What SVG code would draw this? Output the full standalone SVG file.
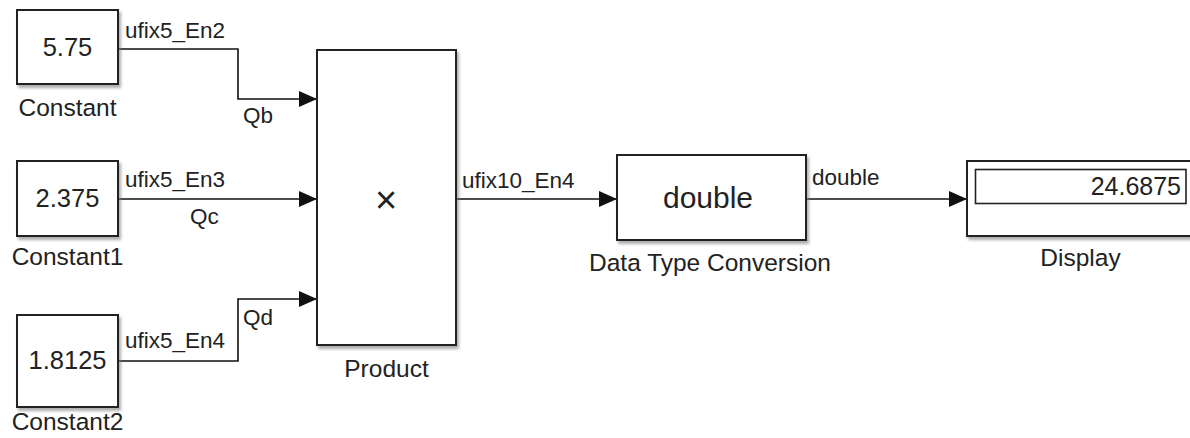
<svg xmlns="http://www.w3.org/2000/svg" width="1190" height="438" viewBox="0 0 1190 438">
<style>
.blk{fill:#fff;stroke:#222;stroke-width:2;filter:url(#sh)}
.val{font-family:"Liberation Sans",Arial,sans-serif;font-size:25.5px;fill:#222;text-anchor:middle}
.lbl{font-family:"Liberation Sans",Arial,sans-serif;font-size:24.5px;fill:#222;text-anchor:middle}
.sig{font-family:"Liberation Sans",Arial,sans-serif;font-size:22.5px;fill:#222}
.ln{fill:none;stroke:#111;stroke-width:1.6;marker-end:url(#ah)}
</style>
<defs>
<filter id="sh" x="-10%" y="-10%" width="130%" height="130%">
<feDropShadow dx="2" dy="3" stdDeviation="1.5" flood-color="#777" flood-opacity="0.6"/>
</filter>
<marker id="ah" markerWidth="18" markerHeight="16" refX="18" refY="8" orient="auto" markerUnits="userSpaceOnUse">
<path d="M0,0 L18,8 L0,16 Z" fill="#111"/>
</marker>
</defs>
<rect width="1190" height="438" fill="#fff"/>
<g id="connectors">
<path class="ln" d="M118,49 H238 V99 H317"/>
<path class="ln" d="M118,199 H317"/>
<path class="ln" d="M118,361 H238 V299 H317"/>
<path class="ln" d="M456,199 H617"/>
<path class="ln" d="M806,199 H967"/>
<text class="sig" x="125" y="38">ufix5_En2</text>
<text class="sig" x="243" y="123">Qb</text>
<text class="sig" x="125" y="187">ufix5_En3</text>
<text class="sig" x="190" y="224">Qc</text>
<text class="sig" x="125" y="348">ufix5_En4</text>
<text class="sig" x="243" y="325">Qd</text>
<text class="sig" x="462" y="188">ufix10_En4</text>
<text class="sig" x="812" y="185">double</text>
</g>
<g id="constant">
<rect class="blk" x="17" y="10" width="101" height="74"/>
<text class="val" x="67.5" y="56">5.75</text>
<text class="lbl" x="67.5" y="116">Constant</text>
</g>
<g id="constant1">
<rect class="blk" x="17" y="161" width="101" height="75"/>
<text class="val" x="67.5" y="207">2.375</text>
<text class="lbl" x="67.5" y="265">Constant1</text>
</g>
<g id="constant2">
<rect class="blk" x="17" y="315" width="101" height="92"/>
<text class="val" x="67.5" y="369">1.8125</text>
<text class="lbl" x="67.5" y="430">Constant2</text>
</g>
<g id="product">
<rect class="blk" x="317" y="50" width="139" height="295"/>
<text class="val" x="386" y="212.5" style="font-size:38px">×</text>
<text class="lbl" x="386.5" y="376.5">Product</text>
</g>
<g id="dtc">
<rect class="blk" x="617" y="155" width="189" height="85"/>
<text class="val" x="708" y="208" style="font-size:30px">double</text>
<text class="lbl" x="710" y="270.5">Data Type Conversion</text>
</g>
<g id="display">
<rect class="blk" x="967" y="161" width="240" height="75"/>
<rect x="975.5" y="169.5" width="210.5" height="34" fill="#fff" stroke="#222" stroke-width="1.6"/>
<text class="val" x="1181" y="195" style="text-anchor:end;font-size:25px">24.6875</text>
<text class="lbl" x="1080.5" y="266">Display</text>
</g>
</svg>
